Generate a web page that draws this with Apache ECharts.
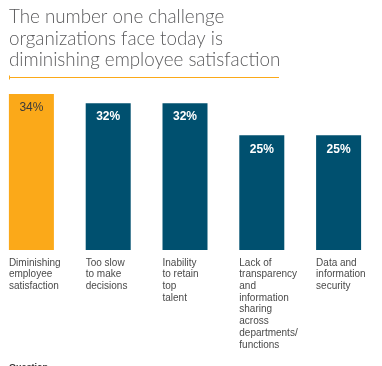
<!DOCTYPE html>
<html>
<head>
<meta charset="utf-8">
<script src="https://cdn.jsdelivr.net/npm/echarts@6/dist/echarts.min.js"></script>
<style>html,body{margin:0;padding:0;background:#fff}#c{width:382px;height:366px}</style>
</head>
<body>
<div id="c"></div>
<script>
const titleText = "The number one challenge\norganizations face today is\ndiminishing employee satisfaction";
const categories = [
  "Diminishing\nemployee\nsatisfaction",
  "Too slow\nto make\ndecisions",
  "Inability\nto retain\ntop\ntalent",
  "Lack of\ntransparency\nand\ninformation\nsharing\nacross\ndepartments/\nfunctions",
  "Data and\ninformation\nsecurity"
];
const values = [34, 32, 32, 25, 25];
const highlighted = [true, false, false, false, false];
const footnote = "Question";

const ORANGE = '#FBA919', BLUE = '#00506F';
const chart = echarts.init(document.getElementById('c'), null, {renderer: 'canvas'});
chart.setOption({
  animation: false,
  title: [{
    text: titleText, left: 9, top: 6, padding: 0,
    textStyle: {fontFamily: 'Lato', fontWeight: 300, fontSize: 18.8, lineHeight: 21.7, color: '#5a5a5c'}
  }, {
    text: footnote, left: 9, top: 363, padding: 0,
    textStyle: {fontFamily: 'Liberation Sans', fontWeight: 'bold', fontSize: 9, color: '#333'}
  }],
  graphic: [
    {type: 'line', shape: {x1: 9, y1: 77.5, x2: 279, y2: 77.5}, style: {stroke: ORANGE, lineWidth: 1.2}},
    {type: 'line', shape: {x1: 9.5, y1: 75.5, x2: 9.5, y2: 79.5}, style: {stroke: ORANGE, lineWidth: 1}}
  ],
  grid: {left: -7, right: 5, top: 94, bottom: 116, containLabel: false, outerBoundsMode: 'none'},
  xAxis: {
    type: 'category', data: categories,
    axisLine: {show: false}, axisTick: {show: false},
    axisLabel: {
      interval: 0, align: 'left', verticalAlign: 'top', margin: 7,
      padding: [0, 0, 0, -22.5],
      fontFamily: 'Liberation Sans', fontSize: 10, lineHeight: 11.7, color: '#4a4a4a'
    }
  },
  yAxis: {type: 'value', min: 0, max: 34, show: false, splitLine: {show: false}},
  series: [{
    type: 'bar', barWidth: 45,
    data: values.map((v, i) => ({
      value: v,
      itemStyle: {color: highlighted[i] ? ORANGE : BLUE},
      label: {color: highlighted[i] ? '#3a3a3a' : '#fff', fontWeight: highlighted[i] ? 'normal' : 'bold'}
    })),
    label: {
      show: true, position: 'insideTop', distance: 8,
      formatter: p => p.value + '%',
      fontFamily: 'Liberation Sans', fontSize: 12
    }
  }]
});
</script>
</body>
</html>
